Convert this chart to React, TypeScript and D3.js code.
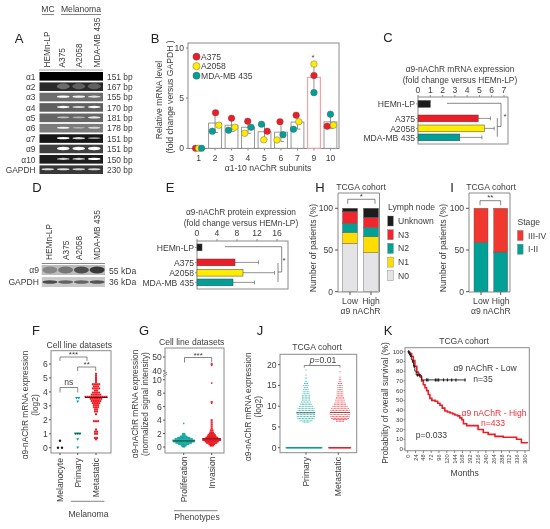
import React from "react";
import * as d3 from "d3";

const RED = "#ee1c25";
const YELLOW = "#ffec00";
const TEAL = "#00a096";
const BLACK = "#1d1b1c";
const GREY = "#8a8a8a";
const INK = "#3c3c3c";

// A: gels
const gelRows = ["α1", "α2", "α3", "α4", "α5", "α6", "α7", "α9", "α10", "GAPDH"];
const gelSizes = ["151 bp", "167 bp", "155 bp", "170 bp", "181 bp", "178 bp", "151 bp", "151 bp", "150 bp", "230 bp"];
const gelBack = ["#060606", "#2c2c2c", "#6e6e6e", "#606060", "#666666", "#7c7c7c", "#181818", "#404040", "#1c1c1c", "#383838"];
const gelBands = [
  [0, 0, 0, 0],
  [0, 0.3, 0.25, 0.25],
  [0, 1, 0.9, 0.8],
  [0, 1, 0.75, 1],
  [0, 0.6, 0.5, 0.85],
  [0, 0.9, 0.45, 0.7],
  [0, 1, 0.85, 0.6],
  [0, 1.8, 1.8, 1.8],
  [0, 0.8, 0.8, 1],
  [0.85, 0.85, 0.8, 0.8],
];
const laneNames = ["HEMn-LP", "A375", "A2058", "MDA-MB 435"];

// B: qPCR
const subunits = ["1", "2", "3", "4", "5", "6", "7", "9", "10"];
const a375Level = [0, 3.55, 3.0, 2.7, 1.7, 2.65, 3.3, 7.25, 2.2];
const a2058Level = [0, 2.3, 2.1, 1.5, 0.85, 0.83, 2.65, 8.4, 2.3];
const mdaLevel = [0, 1.7, 1.8, 2.1, 2.4, 1.35, 1.9, 5.55, 3.4];
// sideways shift of the dots so they do not hide each other
const dotNudge = [
  [-3, 0, 3],
  [0.5, 3.7, -2.7],
  [0, 3.3, -3],
  [-0.3, -3.3, 3],
  [2.7, -0.7, -3],
  [-1, -4, 2],
  [-1.3, 1.3, -4],
  [0, 0, 0],
  [-3.3, 3, 0],
];

// C, E: horizontal bars
const cellLines = ["HEMn-LP", "A375", "A2058", "MDA-MB 435"];
const cellColors = [BLACK, RED, YELLOW, TEAL];
const mrnaFold = [1, 4.9, 5.4, 3.4];
const mrnaErr = [0, 5.9, 6.2, 5.2];
const proteinFold = [1, 7.6, 9.2, 7.2];
const proteinErr = [0, 12.3, 15.5, 11.5];

// H, I: stacks
const nodeStages = ["N0", "N1", "N2", "N3", "Unknown"];
const nodeColors = ["#e4e4e6", "#ffdd00", TEAL, "#f0282d", BLACK];
const nodeLow = [58, 13, 11, 14, 4];
const nodeHigh = [47, 19, 11, 12, 11];
const stageNames = ["I-II", "III-IV"];
const stageColors = [TEAL, "#f0382d"];
const stageLow = [59, 41];
const stageHigh = [47.5, 52.5];

// F: [value, how many dots at that value]
const melanocyteRows: [number, number][] = [[0.5, 1], [0, 2]];
const primaryRows: [number, number][] = [[3.55, 2], [3.3, 1], [1, 3], [0.6, 1], [0, 1]];
const metastaticRows: [number, number][] = [
  [5.3, 1], [5.15, 1], [5, 1], [4.85, 1], [4.7, 1], [4.55, 4], [4.4, 3], [4.25, 4], [4.1, 2], [3.95, 4], [3.8, 5],
  [3.65, 11], [3.5, 6], [3.35, 5], [3.2, 4], [3.05, 3], [2.9, 3], [2.75, 2], [2.6, 2], [2.4, 1], [1.9, 3],
  [1.3, 1], [1.15, 2], [1, 2], [0.7, 2], [0.6, 1],
];

// G
const proliferationRows: [number, number][] = [
  [3.5, 1], [2, 3], [1.8, 4], [1.6, 8], [1.4, 14], [1.2, 20], [1, 25], [0.8, 24], [0.6, 18], [0.4, 12], [0.2, 6], [0.05, 3],
];
const invasionRows: [number, number][] = [
  [45, 2], [44, 1], [9.5, 1], [6.7, 2], [6.5, 1], [4, 2], [3.7, 2], [3.4, 2], [3.1, 2], [2.8, 2], [2.5, 4], [2.2, 5], [2, 7],
  [1.8, 10], [1.6, 12], [1.4, 16], [1.2, 24], [1, 24], [0.8, 18], [0.6, 14], [0.4, 8], [0.2, 5],
];
const proteinTicks = [0, 2, 4, 6, 8, 10, 40, 50];

// J
const tcgaPrimaryRows: [number, number][] = [
  [18.7, 1], [17.5, 1], [16.8, 2], [16, 2], [15.5, 3], [15, 4], [14.5, 3], [14, 4], [13.5, 5], [13, 5], [12.5, 6], [12, 6], [11.5, 6],
  [11, 7], [10.5, 8], [10, 10], [9.5, 12], [9, 12], [8.5, 13], [8, 13], [7.5, 13], [7, 12], [6.5, 9], [6.2, 5],
];
const tcgaMetastaticRows: [number, number][] = [
  [18.3, 1], [17, 1], [16.5, 2], [16, 2], [15.5, 3], [15, 4], [14.5, 4], [14, 4], [13.5, 5], [13, 5], [12.5, 5], [12, 6], [11.5, 7],
  [11, 7], [10.5, 9], [10, 11], [9.5, 13], [9, 14], [8.5, 15], [8, 15], [7.5, 14], [7, 13], [6.8, 10], [6.4, 6],
];

// K: survival steps
const lowMonths = [0, 4, 8, 11, 14, 18, 22, 26, 36, 42, 176];
const lowSurvival = [100, 98, 96, 92, 90, 85, 80, 76, 76, 71, 71];
const lowCensor = [3, 6, 9, 16, 20, 30, 36, 58, 62, 85, 90, 95, 110, 122, 135, 148, 176];
const highMonths = [0, 4, 7, 12, 17, 22, 28, 33, 38, 43, 48, 53, 58, 63, 68, 74, 84, 92, 99, 106, 114, 122, 130, 138, 145, 153, 160, 166, 171, 181, 201, 216, 232, 247, 268, 293, 334, 349, 367];
const highSurvival = [100, 99, 98, 95, 91, 85, 79, 76, 74, 70, 66, 63, 60, 56, 52, 50, 49, 47, 45, 42, 39, 38, 37, 36, 35, 34, 32, 30, 26, 24, 24, 20, 17, 15, 13, 12, 10, 6.5, 6];
const monthTicks = d3.range(0, 361, 24);
const survivalTicks = d3.range(0, 101, 10);

const swarm = (rows: [number, number][], spacing: number) =>
  rows.flatMap(([v, n]) => d3.range(n).map((i) => ({ v, dx: (i - (n - 1) / 2) * spacing })));

const Txt = ({ x, y, s = 8.6, a = "start", c = INK, children }: any) => (
  <text x={x} y={y} fontSize={s} textAnchor={a} fill={c}>
    {children}
  </text>
);

// rotated label, reads bottom to top
const VTxt = ({ x, y, s = 8.6, a = "middle", c = INK, children }: any) => (
  <text transform={`translate(${x},${y}) rotate(-90)`} fontSize={s} textAnchor={a} fill={c}>
    {children}
  </text>
);

const Letter = ({ x, y, children }: any) => (
  <text x={x} y={y} fontSize={13} textAnchor="middle" fill="#222">
    {children}
  </text>
);

const Box = ({ x0, x1, y0, y1, c = GREY, w = 1 }: any) => (
  <rect x={x0} y={y0} width={x1 - x0} height={y1 - y0} fill="none" stroke={c} strokeWidth={w} />
);

const Bracket = ({ x0, x1, y, drop = 4, label, ly, s = 8 }: any) => (
  <g>
    <path d={`M${x0},${y + drop}V${y}H${x1}V${y + drop}`} fill="none" stroke="#555" strokeWidth={0.7} />
    <Txt x={(x0 + x1) / 2} y={ly ?? y - 1} a="middle" s={s}>
      {label}
    </Txt>
  </g>
);

const PanelA = () => {
  const rowY = d3.scaleBand().domain(gelRows).range([72, 174]).paddingInner(0.17).paddingOuter(0);
  const lane = d3.scaleBand().domain(laneNames).range([40, 102]);
  return (
    <g>
      <Letter x={19} y={43}>A</Letter>
      <Txt x={48} y={12} a="middle">MC</Txt>
      <Txt x={81} y={12} a="middle">Melanoma</Txt>
      <path d="M42,14.5H54M61,14.5H101" stroke="#666" strokeWidth={0.8} />
      {laneNames.map((n, i) => (
        <VTxt key={n} x={[49.7, 65, 82, 99.5][i]} y={67.5} a="start" s={8.3}>{n}</VTxt>
      ))}
      <line x1={39} x2={103} y1={70} y2={70} stroke="#aaa" strokeWidth={1} />
      {gelRows.map((r, i) => {
        const y = rowY(r)!;
        const h = rowY.bandwidth();
        return (
          <g key={r}>
            <rect x={39.5} y={y} width={63.5} height={h} fill={gelBack[i]} />
            {gelBands[i].map((b, j) =>
              b > 0 ? (
                <ellipse
                  key={j}
                  cx={lane(laneNames[j])! + lane.bandwidth() / 2}
                  cy={y + h * 0.45}
                  rx={6.3}
                  ry={b < 0.4 ? 3 : 0.5 + b * 0.65}
                  fill="#fff"
                  opacity={Math.min(1, b)}
                  filter="url(#band)"
                />
              ) : null
            )}
            <Txt x={35.5} y={y + h - 1} a="end" s={8.4}>{r}</Txt>
            <Txt x={107} y={y + h - 1} s={8.4}>{gelSizes[i]}</Txt>
          </g>
        );
      })}
    </g>
  );
};

const PanelB = () => {
  const x = d3.scaleBand().domain(subunits).range([188.5, 340.5]).padding(0.22);
  const y = d3.scaleLinear().domain([0, 10]).range([148.3, 48]);
  const dotR = 3.3;
  return (
    <g>
      <Letter x={155} y={43}>B</Letter>
      <VTxt x={162} y={100}>Relative mRNA level</VTxt>
      <VTxt x={173} y={97}>(fold change versus GAPDH )</VTxt>
      <Box x0={188} x1={339} y0={43} y1={148.5} />
      {[0, 5, 10].map((t) => (
        <g key={t}>
          <line x1={186} x2={188} y1={y(t)} y2={y(t)} stroke={GREY} />
          <Txt x={184} y={y(t) + 3} a="end">{t}</Txt>
        </g>
      ))}
      {subunits.map((s, i) => {
        const vals = [a375Level[i], a2058Level[i], mdaLevel[i]];
        const mean = d3.mean(vals)!;
        const sd = d3.deviation(vals)!;
        const cx = x(s)! + x.bandwidth() / 2;
        const hot = s === "9";
        return (
          <g key={s}>
            {mean > 0 && (
              <>
                <rect x={x(s)} y={y(mean)} width={x.bandwidth()} height={y(0) - y(mean)} fill="#fff" stroke={hot ? "#f6a0a4" : "#8d8d8d"} strokeWidth={hot ? 1.2 : 0.9} />
                <line x1={cx} x2={cx} y1={y(mean + sd)} y2={y(mean - sd)} stroke="#666" strokeWidth={0.7} />
                <line x1={cx} x2={cx + 3} y1={y(mean - sd)} y2={y(mean - sd)} stroke="#666" strokeWidth={0.7} />
              </>
            )}
            {vals.map((v, k) => (
              <circle key={k} cx={cx + dotNudge[i][k]} cy={y(v)} r={dotR} fill={[RED, YELLOW, TEAL][k]} stroke="#555" strokeWidth={0.4} />
            ))}
            <line x1={cx} x2={cx} y1={148.5} y2={150.5} stroke={GREY} />
            <Txt x={cx} y={161} a="middle">{s}</Txt>
          </g>
        );
      })}
      <Txt x={313} y={60} a="middle" s={8}>*</Txt>
      {["A375", "A2058", "MDA-MB 435"].map((n, k) => (
        <g key={n}>
          <circle cx={196.5} cy={56.7 + k * 9.5} r={3.6} fill={[RED, YELLOW, TEAL][k]} stroke="#555" strokeWidth={0.4} />
          <Txt x={201} y={59.9 + k * 9.5}>{n}</Txt>
        </g>
      ))}
      <Txt x={268} y={171} a="middle">α1-10 nAChR subunits</Txt>
    </g>
  );
};

const HBars = ({ x0, x1, boxRight, top, bottom, domainMax, tickVals, values, errs, ys, t1, t2, t1y, tx, ticksY }: any) => {
  const x = d3.scaleLinear().domain([0, domainMax]).range([x0, x1]);
  return (
    <g>
      <Txt x={tx} y={t1y} a="middle" s={8.4}>{t1}</Txt>
      <Txt x={tx} y={t1y + 10.6} a="middle" s={8.4}>{t2}</Txt>
      <Box x0={x0} x1={boxRight} y0={top} y1={bottom} />
      {tickVals.map((t: number) => (
        <g key={t}>
          <line x1={x(t)} x2={x(t)} y1={top - 2} y2={top} stroke={GREY} />
          <Txt x={x(t)} y={ticksY} a="middle">{t}</Txt>
        </g>
      ))}
      {cellLines.map((c, i) => (
        <g key={c}>
          {errs[i] > 0 && (
            <path d={`M${x(values[i])},${ys[i] + 3.4}H${x(errs[i])}M${x(errs[i])},${ys[i] + 1.5}V${ys[i] + 5.3}`} stroke="#666" strokeWidth={0.7} fill="none" />
          )}
          <rect x={x(0)} y={ys[i]} width={x(values[i]) - x(0)} height={6.8} fill={cellColors[i]} stroke="#444" strokeWidth={0.5} />
          <line x1={x0 - 2} x2={x0} y1={ys[i] + 3.4} y2={ys[i] + 3.4} stroke={GREY} />
          <Txt x={x0 - 3} y={ys[i] + 6.5} a="end" s={8.6}>{c}</Txt>
        </g>
      ))}
    </g>
  );
};

const PanelC = () => (
  <g>
    <Letter x={388} y={42}>C</Letter>
    <HBars x0={418} x1={504} boxRight={508} top={97} bottom={144} domainMax={7} tickVals={d3.range(0, 8)} values={mrnaFold} errs={mrnaErr}
      ys={[100.5, 115, 125, 134]} t1="α9-nAChR mRNA expression" t2="(fold change versus HEMn-LP)" t1y={72} tx={460} ticksY={93} />
    <path d="M447,103.3H501V126.5H497.3M497.3,118V136.7" fill="none" stroke="#555" strokeWidth={0.7} />
    <Txt x={505} y={119} a="middle" s={8}>*</Txt>
  </g>
);

const PanelD = () => {
  const lane = d3.scaleBand().domain(laneNames).range([42, 105]);
  const bandA9 = [0.35, 0.45, 0.7, 0.85];
  const bandG = [0.75, 0.6, 0.6, 0.7];
  return (
    <g>
      <Letter x={37} y={192}>D</Letter>
      {laneNames.map((n, i) => (
        <VTxt key={n} x={[52, 68.5, 82, 99.5][i]} y={260} a="start" s={8.3}>{n}</VTxt>
      ))}
      <line x1={41.7} x2={105} y1={263.5} y2={263.5} stroke="#888" />
      <rect x={41.7} y={265} width={63.3} height={10} fill="#bdbdbd" />
      <rect x={41.7} y={277} width={63.3} height={10} fill="#c9c9c9" />
      {laneNames.map((n, j) => (
        <g key={n}>
          <ellipse cx={lane(n)! + lane.bandwidth() / 2} cy={270} rx={7.5} ry={3.4} fill="#222" opacity={bandA9[j]} filter="url(#band)" />
          <ellipse cx={lane(n)! + lane.bandwidth() / 2} cy={282} rx={7.5} ry={1.7} fill="#222" opacity={bandG[j]} filter="url(#band)" />
        </g>
      ))}
      <Txt x={39} y={273} a="end">α9</Txt>
      <Txt x={39} y={285} a="end">GAPDH</Txt>
      <Txt x={109} y={274}>55 kDa</Txt>
      <Txt x={109} y={285}>36 kDa</Txt>
    </g>
  );
};

const PanelE = () => (
  <g>
    <Letter x={170} y={192}>E</Letter>
    <HBars x0={197} x1={277} boxRight={288} top={241} bottom={289} domainMax={16} tickVals={[0, 4, 8, 12, 16]} values={proteinFold} errs={proteinErr}
      ys={[244, 259, 269.3, 279]} t1="α9-nAChR protein expression" t2="(fold change versus HEMn-LP)" t1y={215} tx={241} ticksY={236} />
    <path d="M225,246.7H281.7V272H278M278,263V282" fill="none" stroke="#555" strokeWidth={0.7} />
    <Txt x={284} y={263} a="middle" s={8}>*</Txt>
  </g>
);

const Stacks = ({ x0, x1, groups, series, colors, ylabX, title, titleX, cx, barW }: any) => {
  const y = d3.scaleLinear().domain([0, 100]).range([291.7, 208.3]);
  const stack = d3.stack().keys(series.map((_: any, i: number) => String(i)));
  const table = groups.map((g: number[]) => Object.fromEntries(g.map((v, i) => [String(i), v])));
  const layers = stack(table as any);
  return (
    <g>
      <Txt x={titleX} y={189.7} a="middle">{title}</Txt>
      <VTxt x={ylabX} y={248}>Number of patients (%)</VTxt>
      <path d={`M${x1},292V193H${x0}V292H${x1}`} fill="none" stroke={GREY} />
      {[0, 50, 100].map((t) => (
        <g key={t}>
          <line x1={x0 - 3} x2={x0} y1={y(t)} y2={y(t)} stroke="#555" />
          <Txt x={x0 - 5} y={y(t) + 3} a="end">{t}</Txt>
        </g>
      ))}
      {layers.map((ly: any, k: number) =>
        ly.map((d: any, g: number) => (
          <rect key={`${k}-${g}`} x={cx[g] - barW / 2} y={y(d[1])} width={barW} height={y(d[0]) - y(d[1])} fill={colors[k]} stroke="#555" strokeWidth={0.4} />
        ))
      )}
      {["Low", "High"].map((n, g) => (
        <g key={n}>
          <line x1={cx[g]} x2={cx[g]} y1={292} y2={295} stroke="#555" />
          <Txt x={cx[g]} y={303.7} a="middle">{n}</Txt>
        </g>
      ))}
      <Txt x={(cx[0] + cx[1]) / 2} y={314} a="middle">α9 nAChR</Txt>
    </g>
  );
};

const PanelH = () => (
  <g>
    <Letter x={320} y={192}>H</Letter>
    <Stacks x0={338} x1={379.5} groups={[nodeLow, nodeHigh]} series={nodeStages} colors={nodeColors} ylabX={316} title="TCGA cohort" titleX={361} cx={[350, 371]} barW={15} />
    <Bracket x0={347.7} x1={375} y={199.3} drop={4.5} label="*" ly={199} />
    <Txt x={388} y={209.5}>Lymph node</Txt>
    {[...nodeStages].reverse().map((n, k) => (
      <g key={n}>
        <rect x={387.7} y={216 + k * 13.7} width={5.6} height={10} fill={nodeColors[4 - k]} stroke="#777" strokeWidth={0.4} />
        <Txt x={398} y={224 + k * 13.7}>{n}</Txt>
      </g>
    ))}
  </g>
);

const PanelI = () => (
  <g>
    <Letter x={452} y={192}>I</Letter>
    <Stacks x0={469} x1={510} groups={[stageLow, stageHigh]} series={stageNames} colors={stageColors} ylabX={446} title="TCGA cohort" titleX={491} cx={[481, 500.7]} barW={14} />
    <Bracket x0={480} x1={500.7} y={200.7} drop={4.5} label="**" ly={200} />
    <Txt x={517.5} y={225}>Stage</Txt>
    {[...stageNames].reverse().map((n, k) => (
      <g key={n}>
        <rect x={517.5} y={230.5 + k * 13.7} width={5.6} height={10} fill={stageColors[1 - k]} stroke="#777" strokeWidth={0.4} />
        <Txt x={528} y={238.5 + k * 13.7}>{n}</Txt>
      </g>
    ))}
  </g>
);

const PanelF = () => {
  const y = d3.scaleLinear().domain([0, 6]).range([447.7, 364]);
  return (
    <g>
      <Letter x={36} y={335}>F</Letter>
      <Txt x={79.3} y={348} a="middle">Cell line datasets</Txt>
      <VTxt x={28} y={405} s={8.4}>α9-nAChR mRNA expression</VTxt>
      <VTxt x={38} y={405} s={8.4}>(log2)</VTxt>
      <Box x0={51} x1={111} y0={350.7} y1={453} />
      {d3.range(0, 7).map((t) => (
        <g key={t}>
          <line x1={49} x2={51} y1={y(t)} y2={y(t)} stroke="#555" />
          <Txt x={47.7} y={y(t) + 3} a="end">{t}</Txt>
        </g>
      ))}
      {swarm(melanocyteRows, 4).map((d, i) => (
        <circle key={i} cx={60 + d.dx} cy={y(d.v)} r={1.2} fill={BLACK} />
      ))}
      {swarm(primaryRows, 2.2).map((d, i) => {
        const cx = 77.7 + d.dx;
        const cy = y(d.v);
        return <path key={i} d={`M${cx - 1.5},${cy - 1.2}H${cx + 1.5}L${cx},${cy + 1.4}Z`} fill={TEAL} />;
      })}
      {swarm(metastaticRows, 2.1).map((d, i) => (
        <rect key={i} x={96 + d.dx - 1} y={y(d.v) - 1} width={2} height={2} fill={RED} />
      ))}
      <line x1={74.5} x2={81} y1={y(1)} y2={y(1)} stroke={BLACK} strokeWidth={0.7} />
      <line x1={85} x2={107.5} y1={y(3.6)} y2={y(3.6)} stroke="#5a0a0a" strokeWidth={1} />
      <Bracket x0={60} x1={87} y={357} drop={4} label="***" ly={357} />
      <Bracket x0={77.7} x1={95.7} y={367} drop={4} label="**" ly={367} />
      <Bracket x0={60} x1={77.7} y={387.5} drop={5} label="ns" ly={385} s={8.6} />
      {["Melanocyte", "Primary", "Metastatic"].map((n, i) => (
        <g key={n}>
          <line x1={[60, 77.7, 96][i]} x2={[60, 77.7, 96][i]} y1={453} y2={455} stroke="#555" />
          <VTxt x={[63, 80.7, 99][i]} y={458} a="end">{n}</VTxt>
        </g>
      ))}
      <line x1={71} x2={104.5} y1={501.3} y2={501.3} stroke="#666" strokeWidth={0.8} />
      <Txt x={88.5} y={516.5} a="middle">Melanoma</Txt>
    </g>
  );
};

const PanelG = () => {
  const y = d3.scaleLinear().domain([0, 10, 40, 50]).range([447, 379.7, 371, 357]);
  return (
    <g>
      <Letter x={144} y={335}>G</Letter>
      <Txt x={191.7} y={345.3} a="middle">Cell line datasets</Txt>
      <VTxt x={138} y={404} s={8.4}>α9-nAChR mRNA expression</VTxt>
      <VTxt x={148} y={404} s={8.4}>(normalized signal intensity)</VTxt>
      <Box x0={165} x1={224} y0={348} y1={453} />
      <line x1={165} x2={165} y1={373.6} y2={375.6} stroke="#fff" strokeWidth={1.5} />
      <path d="M163,376.5l4,-2.2M163,374.5l4,-2.2" stroke="#555" strokeWidth={0.7} />
      {proteinTicks.map((t) => (
        <g key={t}>
          <line x1={163} x2={165} y1={y(t)} y2={y(t)} stroke="#555" />
          <Txt x={161.7} y={y(t) + 3} a="end">{t}</Txt>
        </g>
      ))}
      {swarm(proliferationRows, 0.9).map((d, i) => (
        <circle key={i} cx={183.7 + d.dx} cy={y(d.v)} r={0.85} fill={TEAL} opacity={0.8} />
      ))}
      {swarm(invasionRows, 0.75).map((d, i) => (
        <rect key={i} x={211.7 + d.dx - 0.75} y={y(d.v) - 0.75} width={1.5} height={1.5} fill={RED} />
      ))}
      <line x1={173} x2={195} y1={y(0.9)} y2={y(0.9)} stroke={BLACK} strokeWidth={0.7} />
      <line x1={202} x2={221} y1={y(1.2)} y2={y(1.2)} stroke={BLACK} strokeWidth={0.7} />
      <Bracket x0={184.5} x1={211.7} y={357.5} drop={5} label="***" ly={358} />
      {["Proliferation", "Invasion"].map((n, i) => (
        <g key={n}>
          <line x1={[183.7, 211.7][i]} x2={[183.7, 211.7][i]} y1={453} y2={455} stroke="#555" />
          <VTxt x={[187, 214.7][i]} y={456.5} a="end">{n}</VTxt>
        </g>
      ))}
      <line x1={174} x2={217.7} y1={510.7} y2={510.7} stroke="#666" strokeWidth={0.8} />
      <Txt x={197} y={520} a="middle">Phenotypes</Txt>
    </g>
  );
};

const PanelJ = () => {
  const y = d3.scaleLinear().domain([0, 20]).range([447.7, 364.7]);
  return (
    <g>
      <Letter x={260} y={335}>J</Letter>
      <Txt x={317} y={349.7} a="middle">TCGA cohort</Txt>
      <VTxt x={250.5} y={406.7} s={8.4}>α9-nAChR mRNA expression</VTxt>
      <VTxt x={261} y={406.7} s={8.4}>(log2)</VTxt>
      <Box x0={280} x1={356.7} y0={354.3} y1={452.7} />
      {[0, 5, 10, 15, 20].map((t) => (
        <g key={t}>
          <line x1={278} x2={280} y1={y(t)} y2={y(t)} stroke="#555" />
          <Txt x={276.5} y={y(t) + 3} a="end">{t}</Txt>
        </g>
      ))}
      {swarm(tcgaPrimaryRows, 1.45).map((d, i) => (
        <circle key={i} cx={306 + d.dx} cy={y(d.v)} r={0.55} fill={TEAL} opacity={0.8} />
      ))}
      {swarm(tcgaMetastaticRows, 1.4).map((d, i) => (
        <circle key={i} cx={340 + d.dx} cy={y(d.v)} r={0.55} fill={RED} opacity={0.8} />
      ))}
      {swarm([[0, 60]], 0.6).map((d, i) => (
        <circle key={i} cx={304 + d.dx} cy={y(0)} r={0.8} fill={TEAL} />
      ))}
      {swarm([[0, 37]], 0.6).map((d, i) => (
        <circle key={i} cx={339.7 + d.dx} cy={y(0)} r={0.8} fill={RED} />
      ))}
      <line x1={296} x2={315} y1={y(8.4)} y2={y(8.4)} stroke={BLACK} strokeWidth={0.6} />
      <line x1={330} x2={350} y1={y(8.5)} y2={y(8.5)} stroke={BLACK} strokeWidth={0.6} />
      <path d="M304.3,367.5V365.5H340V367.5" fill="none" stroke="#555" strokeWidth={0.7} />
      <text x={323} y={363} fontSize={8.6} textAnchor="middle" fill={INK}>
        <tspan fontStyle="italic">p</tspan>=0.01
      </text>
      {["Primary", "Metastatic"].map((n, i) => (
        <g key={n}>
          <line x1={[306, 338.3][i]} x2={[306, 338.3][i]} y1={452.7} y2={454.7} stroke="#555" />
          <VTxt x={[309, 341.3][i]} y={457} a="end">{n}</VTxt>
        </g>
      ))}
    </g>
  );
};

const PanelK = () => {
  const x = d3.scaleLinear().domain([0, 360]).range([407.7, 525]);
  const y = d3.scaleLinear().domain([0, 100]).range([449, 351.7]);
  const step = d3.line<number>().x((m) => x(m)).curve(d3.curveStepAfter);
  const lowPath = step.y((_, i) => y(lowSurvival[i]))(lowMonths)!;
  const highPath = step.y((_, i) => y(highSurvival[i]))(highMonths)!;
  const lowAt = (m: number) => lowSurvival[d3.bisectRight(lowMonths, m) - 1];
  return (
    <g>
      <Letter x={388} y={335}>K</Letter>
      <Txt x={464} y={343.7} a="middle">TCGA cohort</Txt>
      <VTxt x={388} y={403} s={8.4}>Probability of overall survival (%)</VTxt>
      <Box x0={405} x1={529.3} y0={347.7} y1={450.7} />
      {survivalTicks.map((t) => (
        <g key={t}>
          <line x1={403.5} x2={405} y1={y(t)} y2={y(t)} stroke="#555" strokeWidth={0.7} />
          <Txt x={403} y={y(t) + 2} a="end" s={6.2}>{t}</Txt>
        </g>
      ))}
      {monthTicks.map((t) => (
        <g key={t}>
          <line x1={x(t)} x2={x(t)} y1={450.7} y2={453} stroke="#555" strokeWidth={0.7} />
          <VTxt x={x(t) + 2} y={454.5} a="end" s={5.6}>{t}</VTxt>
        </g>
      ))}
      <path d={highPath} fill="none" stroke={RED} strokeWidth={1.6} />
      <path d={lowPath} fill="none" stroke={BLACK} strokeWidth={0.9} />
      {lowCensor.map((m) => (
        <line key={m} x1={x(m)} x2={x(m)} y1={y(lowAt(m)) - 1.5} y2={y(lowAt(m)) + 1.5} stroke={BLACK} strokeWidth={1.2} />
      ))}
      <Txt x={485} y={371} a="middle">α9 nAChR - Low</Txt>
      <Txt x={483} y={381.7} a="middle">n=35</Txt>
      <Txt x={494} y={415.7} a="middle" c="#f0323a">α9 nAChR - High</Txt>
      <Txt x={493} y={425.7} a="middle" c="#f0323a">n=433</Txt>
      <Txt x={415.7} y={438}>p=0.033</Txt>
      <Txt x={464.7} y={476} a="middle">Months</Txt>
    </g>
  );
};

export default function App() {
  return (
    <svg
      width={550}
      height={529}
      viewBox="0 0 550 529"
      style={{ position: "absolute", left: 0, top: 0, background: "#fff", fontFamily: "'Liberation Sans', Arial, sans-serif" }}
    >
      <defs>
        <filter id="band" x="-30%" y="-80%" width="160%" height="260%">
          <feGaussianBlur stdDeviation="0.5" />
        </filter>
        <filter id="soft" x="0" y="0" width="100%" height="100%">
          <feGaussianBlur stdDeviation="0.3" />
        </filter>
      </defs>
      <g filter="url(#soft)">
        <rect width={550} height={529} fill="#fff" />
        <PanelA />
        <PanelB />
        <PanelC />
        <PanelD />
        <PanelE />
        <PanelH />
        <PanelI />
        <PanelF />
        <PanelG />
        <PanelJ />
        <PanelK />
      </g>
    </svg>
  );
}
